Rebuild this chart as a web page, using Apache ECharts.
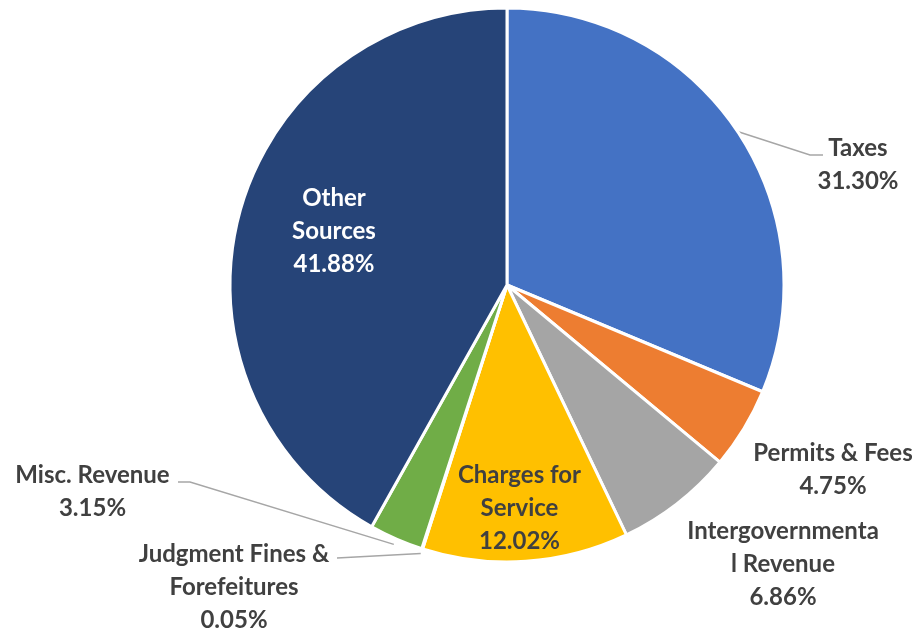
<!DOCTYPE html>
<html>
<head>
<meta charset="utf-8">
<script src="https://cdn.jsdelivr.net/npm/echarts@6/dist/echarts.min.js"></script>
<style>
html,body{margin:0;padding:0;background:#fff;}
#c{width:922px;height:634px;}
</style>
</head>
<body>
<div id="c"></div>
<script>
// ---- data ----
const categories = ['Taxes', 'Permits & Fees', 'Intergovernmental Revenue', 'Charges for Service', 'Judgment Fines & Forefeitures', 'Misc. Revenue', 'Other Sources'];
const labelNames = ['Taxes', 'Permits & Fees', 'Intergovernmenta\nl Revenue', 'Charges for\nService', 'Judgment Fines &\nForefeitures', 'Misc. Revenue', 'Other\nSources'];
const values = [31.30, 4.75, 6.86, 12.02, 0.05, 3.15, 41.88];

// ---- styling / layout ----
const colors = ['#4472C4', '#ED7D31', '#A5A5A5', '#FFC000', '#5B9BD5', '#70AD47', '#264478'];
const CX = 507, CY = 285, R = 277;
const textColor = '#404040';
// label block centres relative to pie centre, optional extra line points
const place = [
  { dx: 351, dy: -120, line: [[303, -130], [316, -130]], inside: false },
  { dx: 326, dy: 185, line: null, inside: false },
  { dx: 276, dy: 279, line: null, inside: false },
  { dx: 12.5, dy: 223, line: null, inside: true, color: textColor },
  { dx: -273, dy: 302, line: [[-170, 273]], inside: false, ext: 5 },
  { dx: -414.5, dy: 207, line: [[-317, 197], [-329, 197]], inside: false, ext: 6 },
  { dx: -173, dy: -54, line: null, inside: true, color: '#FFFFFF' }
];

const chart = echarts.init(document.getElementById('c'), null, { renderer: 'canvas' });

const seriesData = categories.map((name, i) => ({
  name: name,
  value: values[i],
  itemStyle: { color: colors[i] },
  label: {
    position: place[i].inside ? 'inside' : 'outside',
    color: place[i].color || textColor
  },
  labelLine: { show: !!place[i].line }
}));

chart.setOption({
  animation: false,
  series: [{
    type: 'pie',
    center: [CX, CY],
    radius: R,
    startAngle: 90,
    clockwise: true,
    avoidLabelOverlap: false,
    data: seriesData,
    itemStyle: { borderColor: '#ffffff', borderWidth: 3 },
    label: {
      show: true,
      fontFamily: 'Lato',
      fontWeight: 'bold',
      fontSize: 24,
      lineHeight: 33,
      align: 'center',
      formatter: function (p) {
        return labelNames[p.dataIndex] + '\n' + p.value.toFixed(2) + '%';
      }
    },
    labelLine: {
      show: true,
      length: 10,
      length2: 10,
      lineStyle: { color: '#A6A6A6', width: 1.5 }
    },
    labelLayout: function (params) {
      const i = params.dataIndex;
      const pl = place[i];
      const res = { x: CX + pl.dx, y: CY + pl.dy, align: 'center', verticalAlign: 'middle' };
      if (pl.line) {
        // start at pie edge on the slice's mid angle
        let total = values.reduce((a, b) => a + b, 0);
        let before = 0;
        for (let k = 0; k < i; k++) before += values[k];
        const frac = (before + values[i] / 2) / total;
        const ang = frac * Math.PI * 2; // clockwise from top
        const rr = R + (pl.ext || 0);
        const start = [CX + rr * Math.sin(ang), CY - rr * Math.cos(ang)];
        res.labelLinePoints = [start].concat(pl.line.map(q => [CX + q[0], CY + q[1]]));
      }
      return res;
    }
  }]
});
</script>
</body>
</html>
